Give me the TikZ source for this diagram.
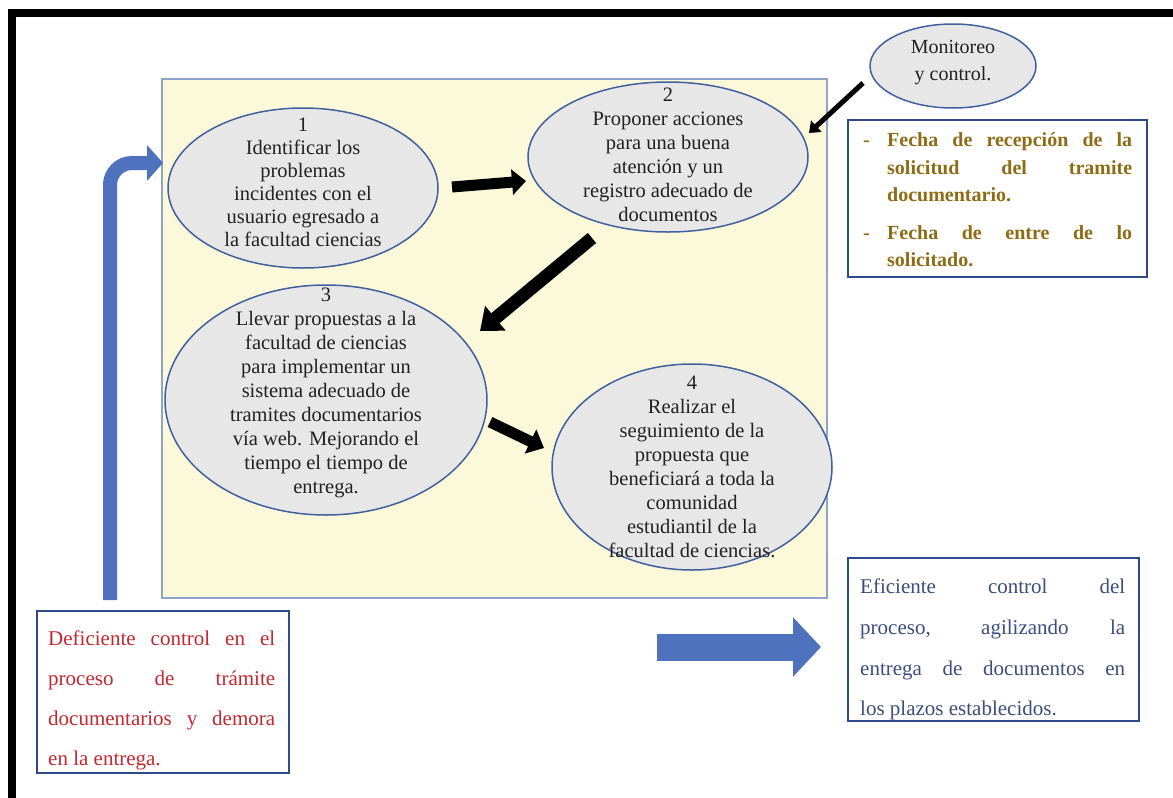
\documentclass[tikz,border=0pt]{standalone}
\usepackage{fontspec}
\setmainfont{Liberation Serif}
\usetikzlibrary{arrows.meta,shapes.geometric}
\definecolor{bgyellow}{HTML}{FCF8DA}
\definecolor{rectblue}{HTML}{8EA3CC}
\definecolor{ellblue}{HTML}{41609F}
\definecolor{ellgray}{HTML}{E7E7E7}
\definecolor{txtgray}{HTML}{222222}
\definecolor{boxblue}{HTML}{2F4A88}
\definecolor{arrblue}{HTML}{4F72BE}
\definecolor{olivetxt}{HTML}{8E6C16}
\definecolor{redtxt}{HTML}{C3282E}
\definecolor{slatetxt}{HTML}{3E4C7E}
\newcommand{\jl}[2]{\makebox[#1][s]{#2}}
\begin{document}
\begin{tikzpicture}[x=1pt,y=-1pt,
  ell/.style={ellipse, draw=ellblue, line width=1.5pt, fill=ellgray, inner sep=0pt},
  etext/.style={align=center, text=txtgray, inner sep=0pt, font=\fontsize{20.5}{24}\selectfont},
  blk/.style={draw=black, line width=#1},
  box/.style={draw=boxblue, line width=2pt, fill=white},
  lin/.style={anchor=base west, inner sep=0pt},
  bluearr/.style={draw=arrblue}
]
\useasboundingbox (0,0) rectangle (1173,798);
% page border
\fill[black] (8,9) rectangle (1173,17);
\fill[black] (8,9) rectangle (16,798);
% yellow panel
\draw[rectblue, line width=1.5pt, fill=bgyellow] (162,79) rectangle (827,598);
% ellipses
\node[ell, minimum width=270pt, minimum height=160pt] (e1) at (303,188) {};
\node[ell, minimum width=280pt, minimum height=150pt] (e2) at (668,157) {};
\node[ell, minimum width=322pt, minimum height=230pt] (e3) at (326,400) {};
\node[ell, minimum width=280pt, minimum height=206pt] (e4) at (692,467) {};
\node[ell, minimum width=166pt, minimum height=84pt] (mon) at (953,66) {};
\node[etext, font=\fontsize{20.5}{23}\selectfont] (t1) at (303,182) {1\\Identificar los\\problemas\\incidentes con el\\usuario egresado a\\la facultad ciencias};
\node[etext] (t2) at (668,155) {2\\Proponer acciones\\para una buena\\atención y un\\registro adecuado de\\documentos};
\node[etext] (t3) at (326,393) {3\\Llevar propuestas a la\\facultad de ciencias\\para implementar un\\sistema adecuado de\\tramites documentarios\\vía web. Mejorando el\\tiempo el tiempo de\\entrega.};
\node[etext] (t4) at (692,467) {4\\Realizar el\\seguimiento de la\\propuesta que\\beneficiará a toda la\\comunidad\\estudiantil de la\\facultad de ciencias.};
\node[etext, font=\fontsize{20}{27}\selectfont] (tm) at (953,63) {Monitoreo\\y control.};
% black arrows
\coordinate (a1s) at (452,187); \coordinate (a1e) at (526,181);
\coordinate (a2s) at (592,238); \coordinate (a2e) at (480,331);
\coordinate (a3s) at (490,422); \coordinate (a3e) at (544,448);
\coordinate (a4s) at (863,83);  \coordinate (a4e) at (809,133);
\draw[blk=11pt, -{Triangle[length=14pt,width=25pt]}] (a1s) -- (a1e);
\draw[blk=13pt, -{Triangle[length=20pt,width=31pt]}] (a2s) -- (a2e);
\draw[blk=11pt, -{Triangle[length=15pt,width=26pt]}] (a3s) -- (a3e);
\draw[blk=5pt, -{Triangle[length=10pt,width=15pt]}] (a4s) -- (a4e);
% blue arrows
\coordinate (b1s) at (110,600); \coordinate (b1c) at (110,163); \coordinate (b1e) at (163,163);
\draw[bluearr, line width=14pt, rounded corners=22pt, -{Triangle[length=16pt,width=35pt]}] (b1s) -- (b1c) -- (b1e);
\coordinate (b2s) at (657,647); \coordinate (b2e) at (821,647);
\draw[bluearr, line width=27pt, -{Triangle[length=28pt,width=58pt]}] (b2s) -- (b2e);
% top right box
\draw[box] (848,120) rectangle (1147,277);
\begin{scope}[every node/.style={lin, text=olivetxt, font=\bfseries\fontsize{20}{24}\selectfont}]
\node (d1) at (863,146) {-};
\node (r1) at (887,146) {\jl{245pt}{Fecha de recepción de la}};
\node (r2) at (887,174) {\jl{245pt}{solicitud del tramite}};
\node (r3) at (887,201) {documentario.};
\node (d2) at (863,239) {-};
\node (r4) at (887,239) {\jl{245pt}{Fecha de entre de lo}};
\node (r5) at (887,266) {solicitado.};
\end{scope}
% bottom left box
\draw[box] (37,611) rectangle (289,773);
\begin{scope}[every node/.style={lin, text=redtxt, font=\fontsize{21}{24}\selectfont}]
\node (l1) at (48,645) {\jl{227pt}{Deficiente control en el}};
\node (l2) at (48,685) {\jl{227pt}{proceso de trámite}};
\node (l3) at (48,725) {\jl{227pt}{documentarios y demora}};
\node (l4) at (48,765) {en la entrega.};
\end{scope}
% bottom right box
\draw[box] (848,558) rectangle (1139,721);
\begin{scope}[every node/.style={lin, text=slatetxt, font=\fontsize{21}{24}\selectfont}]
\node (g1) at (860,593) {\jl{265pt}{Eficiente control del}};
\node (g2) at (860,634) {\jl{265pt}{proceso, agilizando la}};
\node (g3) at (860,675) {\jl{265pt}{entrega de documentos en}};
\node (g4) at (860,715) {los plazos establecidos.};
\end{scope}
\end{tikzpicture}
\end{document}
